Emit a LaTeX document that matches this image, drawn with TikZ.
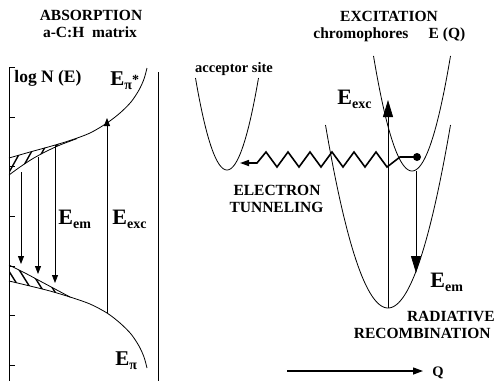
\documentclass[tikz,border=0pt]{standalone}
\usepackage{fontspec}
\setmainfont{Liberation Serif}
\usetikzlibrary{arrows.meta}
\newcommand{\Elab}[1]{{\fontsize{22}{22}\selectfont E}\raisebox{-4.5pt}{\fontsize{14}{14}\selectfont #1}}
\begin{document}
\begin{tikzpicture}[x=1pt,y=-1pt,line width=0.8pt,
  lbl/.style={font=\fontsize{15.5}{17}\selectfont\bfseries,inner sep=0pt,anchor=base},
  elbl/.style={font=\bfseries,inner sep=0pt,anchor=base west},
  smallarr/.style={-{Triangle[length=8pt,width=6pt]}},
  bigarr/.style={-{Triangle[length=17pt,width=10pt]}},
  hatch/.style={line width=1.4pt},
  zig/.style={line width=1.6pt,-{Triangle[length=9pt,width=6pt]}}]
\useasboundingbox (0,0) rectangle (495,381);

% ---------------- left panel ----------------
\node[lbl] (absorption) at (91,20.7) {ABSORPTION};
\node[lbl] (matrix) at (90,37.5) {a-C:H\ \ matrix};

\draw (9,67) -- (9,381);
\draw (158,72) -- (158,381);
\foreach \t in {67,117,166,216,266,315,365} \draw (9,\t) -- (15,\t);

\node[lbl,anchor=base west,font=\fontsize{17.5}{19}\selectfont\bfseries] (logN) at (14,82) {log N (E)};

% upper band (pi*)
\draw plot[smooth] coordinates {(9,158) (30,152) (50,146.5) (70,140.5) (90,133) (107,123) (120,113) (131,102) (139,90) (144,79) (147,68)};
\draw plot[smooth] coordinates {(9,175) (20,167) (33,158.5) (46,151.5) (60,145) (77,138.6)};
\begin{scope}
\clip (9,158) -- (77,138.6) -- plot[smooth] coordinates {(77,138.6) (60,145) (46,151.5) (33,158.5) (20,167) (9,175)} -- cycle;
\foreach \i in {-20,-9,...,80} \draw[hatch] (\i,185) -- (\i+25,140);
\end{scope}

% lower band (pi)
\draw plot[smooth] coordinates {(9,281) (30,286) (50,291) (70,297) (90,304) (107,313) (120,323) (131,334) (139,346) (144,357) (147,368)};
\draw plot[smooth] coordinates {(9,265) (25,273) (40,281) (55,289) (70,297)};
\begin{scope}
\clip plot[smooth] coordinates {(9,265) (25,273) (40,281) (55,289) (70,297)} -- (50,291) -- (30,286) -- (9,281) -- cycle;
\foreach \i in {-20,-9,...,80} \draw[hatch] (\i,260) -- (\i+25,300);
\end{scope}

\coordinate (a1s) at (21,172); \coordinate (a1e) at (21,264);
\coordinate (a2s) at (38,157); \coordinate (a2e) at (38,274);
\coordinate (a3s) at (55,145); \coordinate (a3e) at (55,283);
\draw[smallarr] (a1s) -- (a1e);
\draw[smallarr] (a2s) -- (a2e);
\draw[smallarr] (a3s) -- (a3e);
\coordinate (xs) at (107,313); \coordinate (xe) at (107,118);
\draw[smallarr] (xs) -- (xe);

\node[elbl] (Eemleft) at (58,224) {\Elab{em}};
\node[elbl] (Eexcleft) at (112,224) {\Elab{exc}};
\node[elbl] (Epistar) at (110,85) {{\fontsize{21}{21}\selectfont E}\raisebox{-4pt}{\fontsize{14}{14}\selectfont π}\raisebox{1pt}{\fontsize{14}{14}\selectfont *}};
\node[elbl] (Epi) at (115,365) {{\fontsize{21}{21}\selectfont E}\raisebox{-4pt}{\fontsize{14}{14}\selectfont π}};

% ---------------- right panel ----------------
\node[lbl] (excitation) at (389,21.7) {EXCITATION};
\node[lbl] (chromo) at (361,38) {chromophores};
\node[lbl] (EQ) at (447,38) {E (Q)};
\node[lbl,font=\fontsize{14.5}{16}\selectfont\bfseries] (acceptor) at (234,72) {acceptor site};

% parabolas
\draw plot[domain=-31.5:31.5,samples=60] ({227+\x},{170-0.0927*\x*\x});
\draw plot[domain=-38.5:38.5,samples=60] ({412+\x},{171-0.0776*\x*\x});
\draw plot[domain=-62.5:62.5,samples=80] ({388+\x},{308-0.04685*\x*\x});

% excitation arrow
\coordinate (gv) at (388,308); \coordinate (exctip) at (388,100);
\draw[bigarr] (gv) -- (exctip);
\node[elbl] (Eexcright) at (337,104) {\Elab{exc}};

% emission arrow
\coordinate (ev) at (416,171); \coordinate (emtip) at (416,273);
\draw[bigarr] (ev) -- (emtip);
\node[elbl] (Eemright) at (430,287) {\Elab{em}};

% electron dot and tunneling
\node[circle,fill,inner sep=0pt,minimum size=8pt] (dot) at (417,157) {};
\coordinate (acc) at (240,163);
\draw[zig] (dot.center) -- (400,157) -- (387,167) -- (376,152) -- (365,167) -- (354,152) -- (343,167) -- (332,152) -- (321,167) -- (310,152) -- (299,167) -- (288,152) -- (277,167) -- (266,152) -- (257,163) -- (acc);

\node[lbl] (electron) at (277,195) {ELECTRON};
\node[lbl] (tunneling) at (276.5,212) {TUNNELING};
\node[lbl,anchor=base east] (radiative) at (495,321) {RADIATIVE};
\node[lbl,anchor=base east] (recomb) at (491,338) {RECOMBINATION};

% Q axis
\node[lbl,anchor=base west,font=\fontsize{14.5}{16}\selectfont\bfseries] (Q) at (432,376) {Q};
\coordinate (qs) at (287,371);
\coordinate (qe) at (423,371);
\draw[line width=1.3pt,-{Triangle[length=10pt,width=7pt]}] (qs) -- (qe);
\end{tikzpicture}
\end{document}
